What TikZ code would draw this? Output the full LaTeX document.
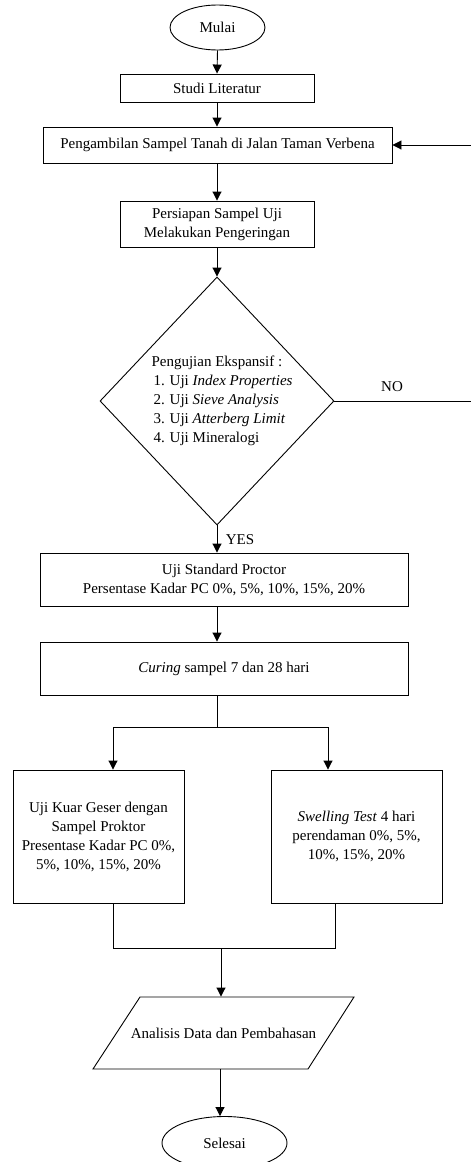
\documentclass[tikz,border=0pt]{standalone}
\usepackage{fontspec}
\setmainfont{Liberation Serif}
\usetikzlibrary{shapes.geometric,arrows.meta}
\begin{document}
\begin{tikzpicture}[x=1pt,y=-1pt,
  font=\fontsize{15}{19}\selectfont,
  line width=0.9pt,
  box/.style={draw, rectangle, inner sep=0pt, align=center},
  term/.style={draw, ellipse, inner sep=0pt},
  arr/.style={-{Triangle[length=9pt,width=9pt]}}]
\useasboundingbox (0,0) rectangle (471,1162);

\node[term, minimum width=95pt, minimum height=45pt] (mulai) at (217.5,27.5) {Mulai};
\node[box, minimum width=194pt, minimum height=28pt] (studi) at (217,88) {Studi Literatur};
\node[box, minimum width=349pt, minimum height=36pt] (peng) at (217.5,145) {Pengambilan Sampel Tanah di Jalan Taman Verbena};
\node[box, minimum width=194pt, minimum height=46pt] (pers) at (217,224) {Persiapan Sampel Uji\\Melakukan Pengeringan};
\node[draw, diamond, minimum width=234pt, minimum height=248pt, inner sep=0pt] (dia) at (217,401) {};
\node[align=left, inner sep=0pt] (diatext) at (222,401) {Pengujian Ekspansif :\\
\hspace{2pt}1. Uji \textit{Index Properties}\\
\hspace{2pt}2. Uji \textit{Sieve Analysis}\\
\hspace{2pt}3. Uji \textit{Atterberg Limit}\\
\hspace{2pt}4. Uji Mineralogi};
\node[box, minimum width=368pt, minimum height=53pt] (usp) at (224,579.5) {Uji Standard Proctor\\Persentase Kadar PC 0\%, 5\%, 10\%, 15\%, 20\%};
\node[box, minimum width=368pt, minimum height=53pt] (cur) at (224,668.5) {\textit{Curing} sampel 7 dan 28 hari};
\node[box, minimum width=171pt, minimum height=133pt] (kuar) at (98.5,836.5) {Uji Kuar Geser dengan\\Sampel Proktor\\Presentase Kadar PC 0\%,\\5\%, 10\%, 15\%, 20\%};
\node[box, minimum width=171pt, minimum height=133pt] (swell) at (356.5,836.5) {\textit{Swelling Test} 4 hari\\perendaman 0\%, 5\%,\\10\%, 15\%, 20\%};
\node[minimum width=214pt, minimum height=72pt, inner sep=0pt] (ana) at (223.5,1033) {Analisis Data dan Pembahasan};
\draw (140,997) -- (354,997) -- (308,1069) -- (93,1069) -- cycle;
\node[term, minimum width=125pt, minimum height=53pt] (sel) at (224.5,1143) {Selesai};

\node (no) at (392,387) {NO};
\node (yes) at (240,540) {YES};

\coordinate (split) at (217,727);
\coordinate (sl) at (113,727);
\coordinate (sr) at (328,727);
\coordinate (ml) at (113,948);
\coordinate (mr) at (335,948);
\coordinate (mm) at (221,948);
\coordinate (ab) at (220,1069);
\coordinate (l1) at (474,401);
\coordinate (l2) at (474,145);

\draw[arr] (mulai.south) -- (studi.north);
\draw[arr] (studi.south) -- (studi.south |- peng.north);
\draw[arr] (pers.north |- peng.south) -- (pers.north);
\draw[arr] (pers.south) -- (dia.north);
\draw[arr] (dia.south) -- (dia.south |- usp.north);
\draw[arr] (dia.south |- usp.south) -- (dia.south |- cur.north);
\draw (dia.south |- cur.south) -- (split);
\draw[arr] (split) -- (sl) -- (sl |- kuar.north);
\draw[arr] (split) -- (sr) -- (sr |- swell.north);
\draw (sl |- kuar.south) -- (ml) -- (mr) -- (mr |- swell.south);
\draw[arr] (mm) -- (mm |- ana.north);
\draw[arr] (ab) -- (ab |- sel.north);
\draw[arr] (dia.east) -- (l1) -- (l2) -- (peng.east);
\end{tikzpicture}
\end{document}
